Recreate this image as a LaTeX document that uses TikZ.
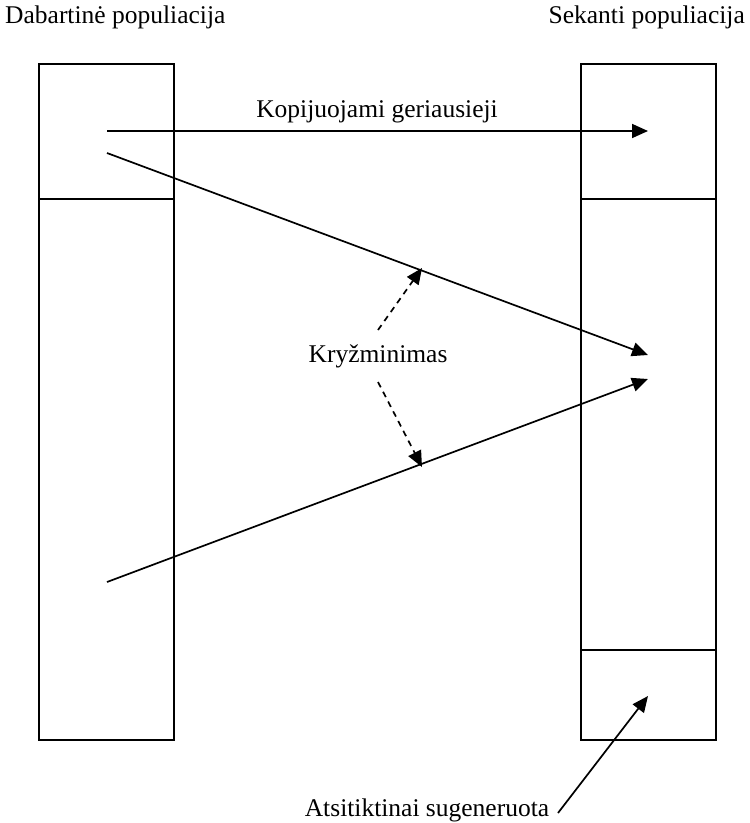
\documentclass[tikz,border=0pt]{standalone}
\usepackage{fontspec}
\setmainfont{Liberation Serif}
\usetikzlibrary{arrows.meta,positioning}

\begin{document}
\begin{tikzpicture}[x=1pt, y=-1pt, font=\fontsize{25.5}{30}\selectfont,
  cell/.style={draw, line width=1.7pt, minimum width=135pt, inner sep=0pt, outer sep=0pt},
  arr/.style={-{Triangle[length=16pt, width=14pt]}, line width=1.7pt},
  darr/.style={arr, dashed, dash pattern=on 6pt off 5pt}]
  \useasboundingbox (0,0) rectangle (750,823);
  % column titles
  \node[anchor=base west, inner sep=0pt] (tcur) at (5,23) {Dabartinė populiacija};
  \node[anchor=base east, inner sep=0pt] (tnext) at (745,23) {Sekanti populiacija};
  % current population
  \node[cell, minimum height=135pt, anchor=north west] (cbest) at (39,64) {};
  \node[cell, minimum height=541pt, anchor=north] (crest) at (cbest.south) {};
  % next population
  \node[cell, minimum height=135pt, anchor=north west] (nbest) at (581,64) {};
  \node[cell, minimum height=451pt, anchor=north] (ncross) at (nbest.south) {};
  \node[cell, minimum height=90pt, anchor=north] (nrand) at (ncross.south) {};
  % arrow end points
  \coordinate (s1) at (107,131);
  \coordinate (e1) at (648,131);
  \coordinate (s2) at (107,153);
  \coordinate (e2) at (648,355);
  \coordinate (s3) at (107,582);
  \coordinate (e3) at (648,379);
  \coordinate (e4) at (648,696);
  \coordinate (x1) at (422,268);
  \coordinate (x2) at (422,467);
  % labels
  \node (copy) at (377,112) {Kopijuojami geriausieji};
  \node (cross) at (378,356) {Kryžminimas};
  \node[anchor=base, inner sep=0pt] (rand) at (427,816) {Atsitiktinai sugeneruota};
  % arrows
  \draw[arr] (s1) -- (e1);
  \draw[arr] (s2) -- (e2);
  \draw[arr] (s3) -- (e3);
  \draw[darr] (378,330) -- (x1);
  \draw[darr] (378,382) -- (x2);
  \draw[arr] (558,813) -- (e4);
\end{tikzpicture}
\end{document}
